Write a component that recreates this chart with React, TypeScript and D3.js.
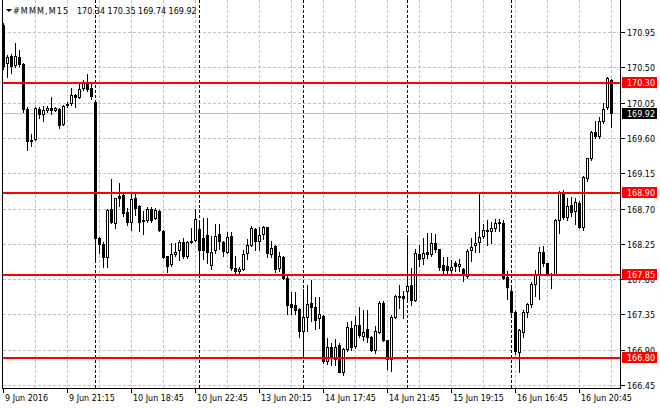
import React from 'react';
import * as d3 from 'd3';

// #MMM M15 bars, 9 Jun 17:15 .. 16 Jun 22:45
const symbol = '#MMM,M15';
const lastOHLC = ['170.34', '170.35', '169.74', '169.92'];

const open = [
  171.04, 170.56, 170.65, 170.53, 170.63, 170.54, 169.97, 169.57, 169.58, 169.97,
  169.90, 169.95, 169.98, 169.95, 169.97, 169.78, 170.02, 170.04, 170.15, 170.12,
  170.23, 170.30, 170.23, 170.06, 168.33, 168.25, 168.08, 168.69, 168.52, 168.86,
  168.87, 168.66, 168.53, 168.84, 168.73, 168.55, 168.55, 168.69, 168.58, 168.67,
  168.41, 168.09, 167.99, 168.12, 168.17, 168.27, 168.09, 168.29, 168.30, 168.44,
  168.32, 168.36, 167.98, 168.17, 168.37, 168.27, 168.15, 168.35, 167.94, 167.90,
  167.93, 168.13, 168.24, 168.44, 168.28, 168.37, 168.46, 168.12, 168.22, 167.94,
  168.08, 167.82, 167.48, 167.47, 167.42, 167.14, 167.32, 167.49, 167.45, 167.30,
  167.33, 166.76, 166.94, 166.78, 166.96, 166.62, 166.91, 167.18, 166.95, 167.22,
  167.08, 167.16, 167.06, 166.89, 167.13, 167.50, 167.02, 166.78, 167.32, 167.59,
  167.58, 167.65, 167.73, 167.53, 168.12, 168.07, 168.15, 168.12, 168.26, 168.18,
  167.98, 167.97, 167.91, 168.01, 167.97, 167.93, 167.84, 168.17, 168.23, 168.27,
  168.35, 168.41, 168.41, 168.45, 168.52, 168.52, 167.83, 167.65, 167.38, 166.87,
  167.13, 167.38, 167.48, 167.74, 167.87, 168.15, 168.00, 167.87, 167.87, 168.55,
  168.90, 168.59, 168.74, 168.67, 168.77, 168.46, 169.09, 169.35, 169.67, 169.62,
  169.81, 169.99, 170.34,
];
const high = [
  171.06, 170.66, 170.67, 170.81, 170.72, 170.55, 170.00, 169.65, 170.00, 170.00,
  170.01, 170.01, 170.12, 170.00, 169.98, 170.02, 170.06, 170.24, 170.16, 170.31,
  170.34, 170.41, 170.30, 170.07, 168.34, 168.27, 168.70, 169.07, 168.84, 169.03,
  168.88, 168.71, 168.90, 168.90, 168.74, 168.67, 168.72, 168.72, 168.71, 168.68,
  168.42, 168.10, 168.26, 168.26, 168.30, 168.32, 168.28, 168.45, 168.70, 168.52,
  168.58, 168.58, 168.35, 168.50, 168.50, 168.29, 168.40, 168.40, 168.10, 167.95,
  168.17, 168.31, 168.48, 168.45, 168.47, 168.48, 168.47, 168.29, 168.24, 168.14,
  168.09, 167.85, 167.63, 167.63, 167.43, 167.68, 167.73, 167.79, 167.57, 167.57,
  167.34, 167.05, 166.99, 167.04, 166.99, 166.92, 167.25, 167.26, 167.33, 167.45,
  167.40, 167.41, 167.07, 167.20, 167.52, 167.52, 167.03, 167.34, 167.60, 167.72,
  167.65, 168.35, 167.94, 168.18, 168.23, 168.32, 168.39, 168.39, 168.37, 168.19,
  168.08, 168.08, 168.04, 168.03, 168.06, 167.94, 168.18, 168.32, 168.40, 168.88,
  168.50, 168.55, 168.53, 168.57, 168.56, 168.55, 167.90, 167.70, 167.40, 167.16,
  167.40, 167.50, 167.76, 167.92, 168.21, 168.22, 168.01, 167.88, 168.56, 168.92,
  168.94, 168.83, 168.85, 168.83, 168.79, 169.11, 169.35, 169.69, 169.81, 169.87,
  170.04, 170.37, 170.35,
];
const low = [
  170.48, 170.38, 170.43, 170.51, 170.52, 169.93, 169.44, 169.50, 169.57, 169.86,
  169.81, 169.93, 169.91, 169.94, 169.73, 169.76, 169.99, 170.02, 169.99, 170.11,
  170.21, 170.20, 170.09, 168.02, 168.13, 167.96, 167.96, 168.52, 168.45, 168.73,
  168.60, 168.49, 168.42, 168.62, 168.41, 168.37, 168.53, 168.53, 168.56, 168.41,
  168.07, 167.89, 167.97, 168.09, 168.04, 168.07, 168.07, 168.26, 168.28, 167.88,
  168.05, 168.00, 167.93, 168.13, 168.19, 168.09, 168.13, 167.92, 167.88, 167.85,
  167.92, 168.05, 168.22, 168.17, 168.17, 168.31, 168.08, 168.08, 167.89, 167.90,
  167.80, 167.36, 167.36, 167.36, 167.06, 166.85, 167.14, 167.27, 167.17, 167.18,
  166.73, 166.72, 166.70, 166.70, 166.61, 166.58, 166.88, 166.90, 166.92, 167.06,
  167.02, 167.00, 166.88, 166.86, 167.11, 167.01, 166.66, 166.63, 167.30, 167.43,
  167.31, 167.53, 167.47, 167.52, 167.97, 167.99, 168.07, 168.10, 168.15, 167.92,
  167.88, 167.87, 167.86, 167.90, 167.90, 167.77, 167.81, 168.03, 168.15, 168.14,
  168.32, 168.24, 168.26, 168.41, 168.41, 167.80, 167.54, 167.33, 166.85, 166.62,
  167.06, 167.32, 167.45, 167.59, 167.54, 167.97, 167.86, 167.69, 167.86, 168.39,
  168.57, 168.55, 168.60, 168.50, 168.45, 168.43, 169.05, 169.32, 169.60, 169.60,
  169.79, 169.97, 169.74,
];
const close = [
  170.52, 170.63, 170.52, 170.65, 170.54, 169.97, 169.56, 169.56, 169.98, 169.90,
  169.95, 169.98, 169.96, 169.98, 169.77, 170.01, 170.03, 170.15, 170.12, 170.22,
  170.31, 170.22, 170.14, 168.33, 168.25, 168.08, 168.68, 168.53, 168.83, 168.84,
  168.64, 168.53, 168.82, 168.71, 168.53, 168.54, 168.70, 168.55, 168.68, 168.42,
  168.08, 167.97, 168.12, 168.15, 168.27, 168.09, 168.27, 168.27, 168.56, 168.17,
  168.17, 168.14, 168.15, 168.35, 168.28, 168.16, 168.34, 167.94, 167.90, 167.93,
  168.12, 168.23, 168.45, 168.29, 168.36, 168.46, 168.13, 168.20, 167.93, 168.09,
  167.82, 167.47, 167.45, 167.41, 167.14, 167.32, 167.48, 167.45, 167.28, 167.35,
  166.76, 166.94, 166.82, 166.94, 166.62, 166.91, 167.19, 166.94, 167.22, 167.09,
  167.13, 167.06, 166.90, 167.14, 167.49, 167.03, 166.78, 167.32, 167.59, 167.57,
  167.56, 167.71, 167.53, 168.13, 168.05, 168.13, 168.12, 168.26, 168.19, 167.95,
  167.91, 167.92, 167.96, 167.97, 167.99, 167.85, 168.16, 168.21, 168.26, 168.34,
  168.43, 168.42, 168.45, 168.52, 168.53, 167.82, 167.70, 167.38, 166.88, 167.15,
  167.38, 167.48, 167.74, 167.87, 168.14, 168.00, 167.87, 167.86, 168.55, 168.90,
  168.59, 168.73, 168.66, 168.78, 168.47, 169.10, 169.34, 169.67, 169.62, 169.82,
  169.97, 170.36, 169.92,
];

const priceTicks = [170.95, 170.5, 170.05, 169.6, 169.15, 168.7, 168.25, 167.8, 167.35, 166.9, 166.45];
const timeLabels = [
  '9 Jun 2016', '9 Jun 21:15', '10 Jun 18:45', '10 Jun 22:45', '13 Jun 20:15',
  '14 Jun 17:45', '14 Jun 21:45', '15 Jun 19:15', '16 Jun 16:45', '16 Jun 20:45',
];
const timeLabelBars = [0, 16, 32, 48, 64, 80, 96, 112, 128, 144];
const dayStartBars = [23, 49, 75, 101, 127];
const levels = [170.3, 168.9, 167.85, 166.8];
const lastPrice = 169.92;

const W = 660;
const H = 410;
const LEFT = 2.5;
const RIGHT = 620.5;
const BOTTOM = 388.5;
const FONT = '"DejaVu Sans", Tahoma, sans-serif';

export default function App() {
  const n = close.length;
  const x = d3.scaleLinear().domain([0, n - 1]).range([3, 611]);
  const y = d3.scaleLinear().domain([166.45, 170.95]).range([385, 32]);
  const col = (i: number) => Math.round(x(i));
  const row = (p: number) => Math.round(y(p)) + 0.5;

  const gridBars = d3.range(8, n, 8);

  return (
    <svg
      width={W}
      height={H}
      style={{ position: 'fixed', left: 0, top: 0, background: '#fff' }}
      fontFamily={FONT}
      fontSize={8}
      shapeRendering="crispEdges"
    >
      <rect width={W} height={H} fill="#fff" />

      {/* grid */}
      {priceTicks.map((t) => (
        <line key={'h' + t} x1={LEFT} x2={RIGHT} y1={row(t)} y2={row(t)} stroke="#c0c0c0" strokeDasharray="3,2" />
      ))}
      {gridBars.map((i) => (
        <line key={'v' + i} x1={col(i) + 0.5} x2={col(i) + 0.5} y1={0} y2={BOTTOM} stroke="#c0c0c0" strokeDasharray="3,2" />
      ))}

      {/* day separators */}
      {dayStartBars.map((i) => (
        <line key={'d' + i} x1={col(i) + 0.5} x2={col(i) + 0.5} y1={0} y2={BOTTOM} stroke="#000" strokeDasharray="3,2" />
      ))}

      {/* bid line */}
      <line x1={LEFT} x2={RIGHT} y1={row(lastPrice)} y2={row(lastPrice)} stroke="#c0c0c0" />

      {/* candles */}
      <g>
        {close.map((c, i) => {
          const o = open[i];
          const cx = col(i);
          const yTop = Math.round(y(Math.max(o, c)));
          const yBot = Math.round(y(Math.min(o, c)));
          const bull = c > o;
          return (
            <g key={i}>
              <line x1={cx + 0.5} x2={cx + 0.5} y1={Math.round(y(high[i]))} y2={Math.round(y(low[i])) + 1} stroke="#000" />
              {bull ? (
                <rect x={cx - 0.5} y={yTop + 0.5} width={2} height={Math.max(1, yBot - yTop)} fill="#fff" stroke="#000" />
              ) : (
                <rect x={cx - 1} y={yTop} width={3} height={Math.max(1, yBot - yTop + 1)} fill="#000" />
              )}
            </g>
          );
        })}
      </g>

      {/* horizontal levels */}
      {levels.map((lv) => (
        <line key={'l' + lv} x1={LEFT} x2={RIGHT} y1={Math.round(y(lv))} y2={Math.round(y(lv))} stroke="#ff0000" strokeWidth={2} />
      ))}

      {/* frame */}
      <line x1={LEFT} x2={LEFT} y1={0} y2={BOTTOM} stroke="#000" />
      <line x1={RIGHT} x2={RIGHT} y1={0} y2={BOTTOM} stroke="#000" />
      <line x1={LEFT} x2={RIGHT} y1={BOTTOM} y2={BOTTOM} stroke="#000" />

      {/* price axis */}
      {priceTicks.map((t) => (
        <g key={'pt' + t}>
          <line x1={RIGHT} x2={RIGHT + 4} y1={row(t)} y2={row(t)} stroke="#000" />
          <text x={627} y={row(t) + 3} fill="#000">{t.toFixed(2)}</text>
        </g>
      ))}
      {levels.map((lv) => (
        <g key={'lb' + lv}>
          <rect x={622} y={Math.round(y(lv)) - 6} width={35} height={11} fill="#ff0000" />
          <text x={627} y={Math.round(y(lv)) + 3} fill="#fff">{lv.toFixed(2)}</text>
        </g>
      ))}
      <rect x={622} y={Math.round(y(lastPrice)) - 5} width={35} height={11} fill="#000" />
      <text x={627} y={Math.round(y(lastPrice)) + 4} fill="#fff">{lastPrice.toFixed(2)}</text>

      {/* time axis */}
      {timeLabelBars.map((b, k) => (
        <g key={'tl' + b}>
          <line x1={col(b) + 0.5} x2={col(b) + 0.5} y1={BOTTOM} y2={BOTTOM + 4} stroke="#000" />
          <text x={col(b) + 2} y={401} fill="#000">{timeLabels[k]}</text>
        </g>
      ))}

      {/* header */}
      <path d="M6,9 L12,9 L9,12 Z" fill="#000" shapeRendering="auto" />
      <text x={13} y={14} fill="#000" textLength={55} lengthAdjust="spacing">{symbol}</text>
      <text x={77} y={14} fill="#000">{lastOHLC.join(' ')}</text>
    </svg>
  );
}
